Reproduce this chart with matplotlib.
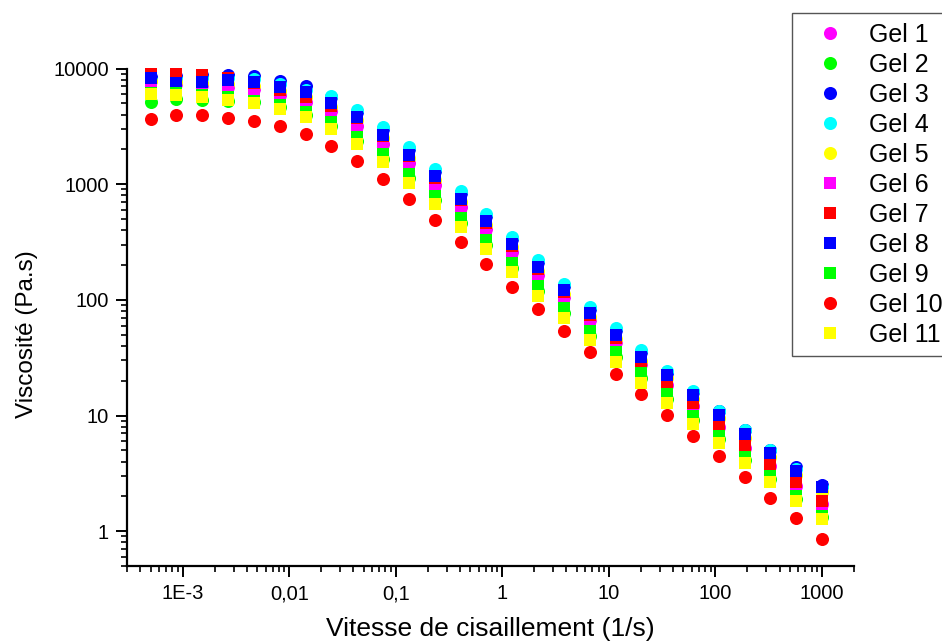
import numpy as np
import matplotlib
matplotlib.use('Agg')
import matplotlib.pyplot as plt
from matplotlib.ticker import FixedLocator, FixedFormatter, LogLocator, NullFormatter

plt.rcParams['font.family'] = ['Liberation Sans', 'DejaVu Sans']

# Vitesse de cisaillement (1/s)
shear = [0.0005, 0.000874, 0.001527, 0.002668, 0.004662, 0.008148, 0.01424, 0.02488,
         0.04348, 0.07598, 0.1328, 0.2320, 0.4054, 0.7085, 1.238, 2.164, 3.781,
         6.607, 11.55, 20.18, 35.26, 61.62, 107.7, 188.2, 328.8, 574.6, 1000]

# Viscosité (Pa.s)
gel1 = [7970, 7360, 7213, 6930, 6660, 5910, 5141, 4297, 3187, 2227, 1525, 984, 635, 406,
        259, 164, 105, 66.9, 43.1, 27.8, 18.3, 12.1, 7.94, 5.22, 3.65, 2.45, 1.71]
gel2 = [5162, 5403, 5330, 5266, 5141, 4655, 3968, 3187, 2364, 1652, 1120, 723, 466, 298,
        190, 120, 76.9, 49.1, 32.0, 21.1, 14.0, 9.22, 6.25, 4.15, 2.82, 1.91, 1.32]
gel3 = [8460, 8630, 8800, 8800, 8630, 7810, 7000, 5680, 4210, 3000, 2016, 1301, 831, 531,
        336, 212, 132, 84.1, 54.8, 35.3, 23.5, 15.9, 10.9, 7.47, 5.07, 3.58, 2.50]
gel4 = [7970, 8130, 8290, 8290, 8130, 7360, 6530, 5740, 4340, 3090, 2100, 1350, 865, 552,
        349, 221, 137, 87.5, 57.0, 36.8, 24.2, 16.3, 11.0, 7.47, 5.02, 3.44, 2.40]
gel5 = [7735, 7660, 7510, 7360, 7071, 6400, 5620, 4655, 3556, 2510, 1686, 1088, 702, 448,
        284, 179, 112, 71.0, 45.8, 29.8, 21.1, 13.9, 9.50, 6.38, 4.37, 3.05, 2.20]
gel6 = [7462, 6795, 6795, 6660, 6464, 5740, 5010, 4210, 3094, 2161, 1495, 965, 623, 398,
        254, 161, 103, 65.5, 42.3, 27.3, 18.0, 11.8, 7.78, 5.12, 3.58, 2.40, 1.68]
gel7 = [8980, 8980, 8710, 8210, 7510, 6530, 5680, 4750, 3700, 2612, 1754, 1131, 723, 462,
        292, 186, 116, 74.6, 46.7, 29.0, 19.1, 12.8, 8.31, 5.55, 3.82, 2.67, 1.83]
gel8 = [8290, 7510, 7660, 7890, 7660, 6930, 6210, 5040, 3814, 2680, 1800, 1170, 749, 480,
        305, 192, 121, 76.4, 49.3, 32.0, 22.5, 14.9, 10.2, 6.90, 4.73, 3.30, 2.40]
gel9 = [6150, 6090, 5850, 5620, 5244, 4843, 4172, 3439, 2550, 1807, 1230, 788, 508, 326,
        209, 133, 85.3, 54.3, 35.3, 23.2, 15.4, 9.98, 6.70, 4.41, 2.99, 2.01, 1.36]
gel10 = [3640, 3945, 3945, 3760, 3540, 3190, 2700, 2140, 1588, 1116, 745, 490, 314, 203,
         130, 82.7, 53.7, 35.2, 23.0, 15.2, 10.1, 6.67, 4.45, 2.95, 1.94, 1.29, 0.853]
gel11 = [5970, 5910, 5656, 5380, 5060, 4490, 3798, 3015, 2218, 1540, 1030, 671, 428, 273,
         174, 109, 70.0, 44.6, 29.0, 19.1, 12.8, 8.48, 5.81, 3.90, 2.65, 1.82, 1.28]

labels = ['Gel 1', 'Gel 2', 'Gel 3', 'Gel 4', 'Gel 5', 'Gel 6', 'Gel 7', 'Gel 8',
          'Gel 9', 'Gel 10', 'Gel 11']
series = [gel1, gel2, gel3, gel4, gel5, gel6, gel7, gel8, gel9, gel10, gel11]
couleurs = ['#ff00ff', '#00ff00', '#0000ff', '#00ffff', '#ffff00', '#ff00ff',
            '#ff0000', '#0000ff', '#00ff00', '#ff0000', '#ffff00']
marqueurs = ['o', 'o', 'o', 'o', 'o', 's', 's', 's', 's', 'o', 's']

xticks = [1e-3, 1e-2, 1e-1, 1, 10, 100, 1000]
xticklabels = ['1E-3', '0,01', '0,1', '1', '10', '100', '1000']
yticks = [1, 10, 100, 1000, 10000]
yticklabels = ['1', '10', '100', '1000', '10000']

W, H = 942, 642
fig = plt.figure(figsize=(W / 100, H / 100), dpi=100)
ax = fig.add_axes([127 / W, 76 / H, (854 - 127) / W, (566 - 68.5) / H])

for y, lab, c, m in zip(series, labels, couleurs, marqueurs):
    ms = 9.4 if m == 'o' else 8.4
    ax.plot(shear, y, linestyle='none', marker=m, markersize=ms, color=c,
            markeredgewidth=0, label=lab, clip_on=False)

ax.set_xscale('log')
ax.set_yscale('log')
ax.set_xlim(3e-4, 2000)
ax.set_ylim(0.5, 10000)

ax.xaxis.set_major_locator(FixedLocator(xticks))
ax.xaxis.set_major_formatter(FixedFormatter(xticklabels))
ax.yaxis.set_major_locator(FixedLocator(yticks))
ax.yaxis.set_major_formatter(FixedFormatter(yticklabels))
ax.xaxis.set_minor_locator(LogLocator(base=10, subs=np.arange(2, 10), numticks=20))
ax.yaxis.set_minor_locator(LogLocator(base=10, subs=np.arange(2, 10), numticks=20))
ax.xaxis.set_minor_formatter(NullFormatter())
ax.yaxis.set_minor_formatter(NullFormatter())

for s in ['top', 'right']:
    ax.spines[s].set_visible(False)
for s in ['left', 'bottom']:
    ax.spines[s].set_linewidth(1.6)
ax.tick_params(which='major', direction='out', length=8, width=1.4, labelsize=14.5,
               colors='black', pad=5)
ax.tick_params(which='minor', direction='out', length=4.5, width=1.2)

ax.set_xlabel('Vitesse de cisaillement (1/s)', fontsize=19)
ax.set_ylabel('Viscosité (Pa.s)', fontsize=17.5)
ax.xaxis.set_label_coords(0.5, -0.102)
ax.yaxis.set_label_coords(-0.1228, 0.466)

leg = ax.legend(loc='upper left', bbox_to_anchor=(791.7 / W, 1 - 13.3 / H),
                bbox_transform=fig.transFigure, borderaxespad=0, fontsize=18,
                frameon=True, fancybox=False, edgecolor='#555555', framealpha=1,
                labelspacing=0.24, handlelength=2.3, handletextpad=0.4, borderpad=0.38,
                markerscale=1.0)
leg.get_frame().set_linewidth(1.0)

fig.savefig('out.png', dpi=100)
